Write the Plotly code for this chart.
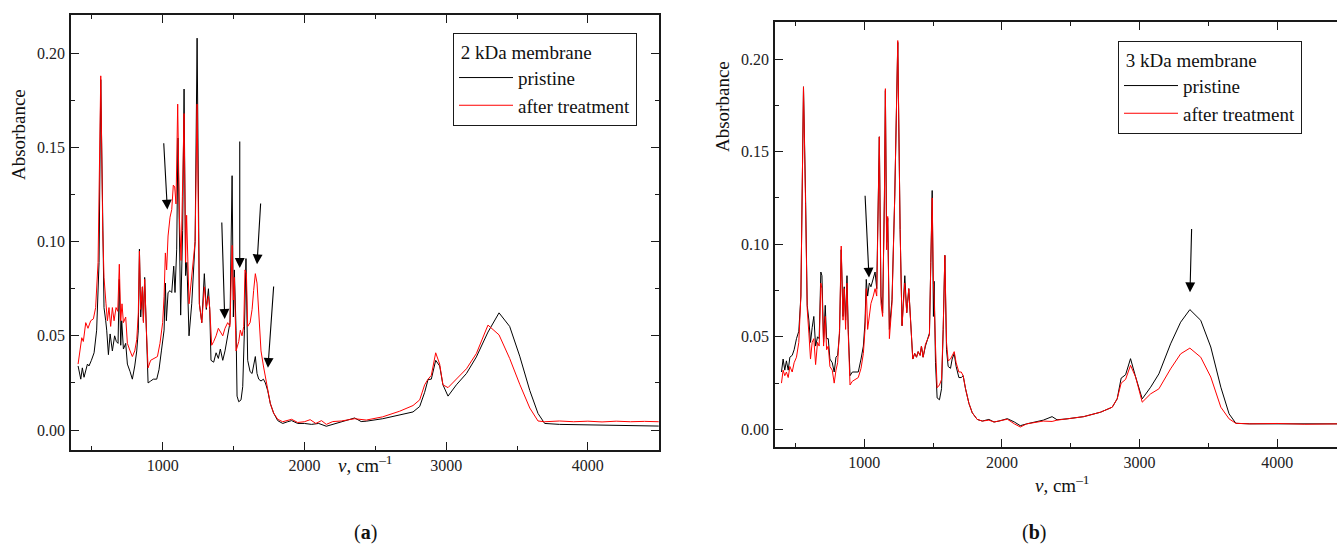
import plotly.graph_objects as go

# ---- data ----
# panel (a) 2 kDa membrane, pristine
a_pr_wn = [402, 421, 432, 444, 468, 479, 496, 515, 533, 550, 562, 573, 585, 597, 604, 616, 628, 644, 660, 672,
           684, 693, 703, 710, 722, 738, 750, 769, 785, 802, 816, 827, 835, 844, 856, 863, 872, 884, 896, 914,
           933, 957, 973, 990, 1009, 1018, 1025, 1037, 1051, 1063, 1077, 1086, 1098, 1107, 1117, 1126, 1140, 1150, 1161, 1170,
           1185, 1204, 1228, 1242, 1258, 1275, 1293, 1307, 1322, 1331, 1340, 1359, 1376, 1392, 1406, 1423, 1439, 1458, 1474, 1489,
           1498, 1505, 1517, 1524, 1536, 1552, 1564, 1576, 1587, 1599, 1616, 1630, 1641, 1653, 1665, 1677, 1693, 1710, 1724, 1740,
           1759, 1782, 1811, 1846, 1881, 1909, 1952, 1999, 2050, 2100, 2154, 2250, 2354, 2400, 2436, 2552, 2672, 2766, 2813, 2848,
           2872, 2895, 2926, 2954, 2977, 3013, 3072, 3143, 3213, 3295, 3373, 3448, 3519, 3590, 3648, 3695, 3800, 4000, 4200, 4500]
a_pr_abs = [0.034, 0.027, 0.033, 0.028, 0.035, 0.034, 0.037, 0.041, 0.053, 0.089, 0.186, 0.124, 0.065, 0.058, 0.053, 0.040, 0.051, 0.042, 0.050, 0.047,
            0.046, 0.080, 0.045, 0.058, 0.043, 0.046, 0.035, 0.031, 0.027, 0.034, 0.042, 0.053, 0.096, 0.060, 0.076, 0.058, 0.081, 0.053, 0.025, 0.026,
            0.027, 0.027, 0.032, 0.042, 0.053, 0.078, 0.058, 0.073, 0.074, 0.073, 0.087, 0.073, 0.096, 0.155, 0.089, 0.061, 0.106, 0.181, 0.082, 0.089,
            0.050, 0.067, 0.100, 0.208, 0.067, 0.057, 0.083, 0.064, 0.075, 0.064, 0.037, 0.036, 0.041, 0.038, 0.043, 0.037, 0.042, 0.050, 0.057, 0.135,
            0.060, 0.085, 0.053, 0.018, 0.015, 0.016, 0.023, 0.053, 0.091, 0.037, 0.031, 0.030, 0.034, 0.039, 0.030, 0.027, 0.026, 0.027, 0.025, 0.021,
            0.014, 0.009, 0.005, 0.0035, 0.0044, 0.005, 0.0035, 0.0035, 0.003, 0.0035, 0.002, 0.004, 0.0064, 0.0045, 0.0047, 0.006, 0.0078, 0.0096, 0.0125, 0.020,
            0.0268, 0.027, 0.037, 0.034, 0.024, 0.018, 0.024, 0.030, 0.0388, 0.052, 0.0622, 0.055, 0.0392, 0.021, 0.0088, 0.0035, 0.003, 0.0028, 0.0025, 0.0021]

# panel (a) 2 kDa membrane, after treatment
a_tr_wn = [402, 416, 428, 439, 456, 472, 491, 510, 526, 543, 562, 576, 585, 599, 609, 620, 632, 644, 656, 670,
           682, 693, 703, 712, 722, 738, 750, 769, 785, 802, 816, 827, 835, 844, 856, 863, 872, 884, 896, 914,
           938, 962, 980, 999, 1009, 1018, 1027, 1037, 1051, 1063, 1074, 1084, 1093, 1105, 1117, 1129, 1138, 1150, 1161, 1168,
           1185, 1204, 1228, 1242, 1258, 1275, 1293, 1307, 1322, 1331, 1345, 1359, 1376, 1392, 1406, 1423, 1439, 1458, 1474, 1489,
           1498, 1505, 1517, 1536, 1547, 1559, 1571, 1580, 1590, 1599, 1616, 1630, 1641, 1653, 1665, 1677, 1693, 1710, 1724, 1740,
           1759, 1782, 1811, 1846, 1881, 1909, 1952, 1999, 2040, 2080, 2120, 2154, 2200, 2260, 2354, 2436, 2552, 2672, 2766, 2813,
           2848, 2872, 2895, 2926, 2954, 2977, 3013, 3072, 3143, 3213, 3295, 3373, 3448, 3519, 3590, 3648, 3695, 3800, 3900, 4000,
           4100, 4200, 4300, 4400, 4500]
a_tr_abs = [0.035, 0.044, 0.049, 0.047, 0.057, 0.054, 0.058, 0.059, 0.065, 0.089, 0.188, 0.106, 0.081, 0.067, 0.058, 0.065, 0.055, 0.065, 0.058, 0.065,
            0.063, 0.088, 0.058, 0.067, 0.057, 0.060, 0.046, 0.042, 0.039, 0.042, 0.048, 0.062, 0.095, 0.064, 0.076, 0.057, 0.080, 0.053, 0.033, 0.037,
            0.038, 0.039, 0.046, 0.057, 0.071, 0.094, 0.085, 0.103, 0.113, 0.117, 0.130, 0.129, 0.120, 0.173, 0.113, 0.090, 0.124, 0.168, 0.089, 0.114,
            0.067, 0.081, 0.100, 0.173, 0.067, 0.057, 0.076, 0.065, 0.071, 0.065, 0.045, 0.047, 0.050, 0.054, 0.052, 0.050, 0.054, 0.057, 0.055, 0.098,
            0.069, 0.081, 0.042, 0.047, 0.053, 0.050, 0.055, 0.085, 0.083, 0.055, 0.057, 0.064, 0.074, 0.083, 0.078, 0.060, 0.042, 0.034, 0.028, 0.022,
            0.014, 0.009, 0.0057, 0.0044, 0.005, 0.0057, 0.004, 0.0044, 0.0055, 0.0035, 0.005, 0.003, 0.0045, 0.0048, 0.006, 0.0053, 0.007, 0.010, 0.013, 0.016,
            0.024, 0.027, 0.029, 0.041, 0.035, 0.024, 0.0225, 0.027, 0.0325, 0.0406, 0.0557, 0.0505, 0.038, 0.0243, 0.0117, 0.0048, 0.0044, 0.0048, 0.0044, 0.0047,
            0.0043, 0.0047, 0.0044, 0.0046, 0.0044]

# panel (b) 3 kDa membrane, shared wavenumber grid
b_wn = [398, 410, 422, 434, 447, 459, 476, 490, 507, 524, 539, 558, 573, 585, 597, 609, 621, 633, 646, 660,
        672, 684, 692, 704, 716, 726, 738, 750, 767, 781, 794, 806, 820, 832, 845, 854, 864, 874, 883, 896,
        913, 932, 956, 976, 993, 1005, 1014, 1024, 1036, 1048, 1065, 1078, 1090, 1099, 1109, 1121, 1133, 1146, 1153, 1162,
        1170, 1182, 1201, 1221, 1243, 1260, 1274, 1294, 1308, 1323, 1337, 1352, 1366, 1379, 1391, 1405, 1415, 1427, 1444, 1461,
        1473, 1483, 1493, 1502, 1507, 1517, 1529, 1546, 1561, 1573, 1585, 1597, 1609, 1626, 1638, 1653, 1667, 1687, 1704, 1718,
        1735, 1760, 1784, 1820, 1857, 1905, 1942, 1978, 2039, 2090, 2133, 2180, 2228, 2300, 2364, 2400, 2473, 2594, 2716, 2801,
        2837, 2866, 2898, 2934, 2971, 3019, 3080, 3140, 3225, 3298, 3365, 3444, 3517, 3590, 3650, 3699, 3800, 4000, 4200, 4440]
b_pr_abs = [0.031, 0.038, 0.032, 0.037, 0.032, 0.039, 0.040, 0.043, 0.049, 0.053, 0.072, 0.185, 0.126, 0.067, 0.059, 0.047, 0.055, 0.061, 0.045, 0.050,
            0.049, 0.085, 0.083, 0.047, 0.067, 0.049, 0.049, 0.038, 0.036, 0.031, 0.039, 0.040, 0.052, 0.097, 0.061, 0.077, 0.059, 0.083, 0.054, 0.029,
            0.031, 0.031, 0.031, 0.038, 0.045, 0.058, 0.081, 0.072, 0.079, 0.077, 0.081, 0.085, 0.076, 0.108, 0.158, 0.072, 0.063, 0.126, 0.183, 0.101,
            0.114, 0.054, 0.070, 0.126, 0.209, 0.108, 0.056, 0.083, 0.063, 0.076, 0.058, 0.038, 0.041, 0.039, 0.042, 0.040, 0.045, 0.039, 0.045, 0.049,
            0.052, 0.090, 0.129, 0.061, 0.080, 0.036, 0.017, 0.016, 0.022, 0.054, 0.094, 0.043, 0.034, 0.033, 0.038, 0.041, 0.034, 0.028, 0.028, 0.029,
            0.022, 0.014, 0.009, 0.0054, 0.0045, 0.0054, 0.004, 0.0045, 0.0058, 0.004, 0.002, 0.003, 0.0038, 0.005, 0.0069, 0.0052, 0.0057, 0.0069, 0.0093, 0.012,
            0.0165, 0.0277, 0.0295, 0.0382, 0.0283, 0.0165, 0.0228, 0.0300, 0.0462, 0.0579, 0.0647, 0.0589, 0.0445, 0.0228, 0.0084, 0.0033, 0.003, 0.003, 0.0028, 0.003]
b_tr_abs = [0.025, 0.032, 0.029, 0.031, 0.028, 0.034, 0.031, 0.036, 0.039, 0.047, 0.072, 0.185, 0.122, 0.065, 0.052, 0.038, 0.047, 0.049, 0.035, 0.047,
            0.045, 0.079, 0.076, 0.045, 0.061, 0.043, 0.045, 0.034, 0.032, 0.025, 0.032, 0.036, 0.054, 0.099, 0.059, 0.076, 0.054, 0.079, 0.052, 0.024,
            0.026, 0.027, 0.028, 0.033, 0.041, 0.054, 0.076, 0.054, 0.063, 0.068, 0.072, 0.076, 0.072, 0.108, 0.158, 0.068, 0.061, 0.126, 0.184, 0.097,
            0.115, 0.049, 0.068, 0.126, 0.210, 0.108, 0.056, 0.079, 0.063, 0.076, 0.058, 0.038, 0.041, 0.039, 0.042, 0.040, 0.045, 0.039, 0.046, 0.049,
            0.051, 0.090, 0.125, 0.079, 0.072, 0.045, 0.0225, 0.024, 0.027, 0.054, 0.094, 0.047, 0.037, 0.038, 0.040, 0.042, 0.036, 0.031, 0.031, 0.029,
            0.022, 0.014, 0.009, 0.0054, 0.0045, 0.005, 0.004, 0.0045, 0.0055, 0.003, 0.0013, 0.003, 0.0035, 0.0045, 0.0043, 0.005, 0.0057, 0.0069, 0.0093, 0.012,
            0.0165, 0.025, 0.027, 0.0346, 0.0283, 0.0147, 0.0192, 0.0219, 0.0327, 0.0408, 0.0439, 0.039, 0.0283, 0.012, 0.0057, 0.0033, 0.003, 0.0032, 0.0028, 0.003]

# arrows: (tail wn, tail A, head wn, head A)
arrows_a = [(1006, 0.153, 1032, 0.117), (1416, 0.111, 1437, 0.059), (1543, 0.154, 1543, 0.086),
            (1691, 0.121, 1665, 0.088), (1783, 0.077, 1742, 0.033)]
arrows_b = [(1005, 0.127, 1034, 0.082), (3378, 0.109, 3366, 0.074)]

assert len(a_pr_wn) == len(a_pr_abs)
assert len(a_tr_wn) == len(a_tr_abs)
assert len(b_wn) == len(b_pr_abs) == len(b_tr_abs)

W, H = 1337, 551
FONT = 'Liberation Serif, Times New Roman, serif'
INK = '#1a1a1a'

fig = go.Figure()
fig.add_trace(go.Scatter(x=a_pr_wn, y=a_pr_abs, mode='lines', name='pristine',
                         line=dict(color='black', width=1), xaxis='x', yaxis='y', legend='legend'))
fig.add_trace(go.Scatter(x=a_tr_wn, y=a_tr_abs, mode='lines', name='after treatment',
                         line=dict(color='#ff0000', width=1), xaxis='x', yaxis='y', legend='legend'))
fig.add_trace(go.Scatter(x=b_wn, y=b_pr_abs, mode='lines', name='pristine',
                         line=dict(color='black', width=1), xaxis='x2', yaxis='y2', legend='legend2'))
fig.add_trace(go.Scatter(x=b_wn, y=b_tr_abs, mode='lines', name='after treatment',
                         line=dict(color='#ff0000', width=1), xaxis='x2', yaxis='y2', legend='legend2'))

common = dict(showgrid=False, zeroline=False, showline=True, linecolor=INK, linewidth=1.5,
              ticks='inside', ticklen=8, tickwidth=1.3, tickcolor=INK,
              tickfont=dict(family=FONT, size=16, color='#222'))
xminor = dict(dtick=500, tick0=0, ticks='inside', ticklen=4, tickwidth=1.2, tickcolor=INK)
yminor = dict(dtick=0.025, tick0=0, ticks='inside', ticklen=4, tickwidth=1.2, tickcolor=INK)
legfont = dict(family=FONT, size=19, color='#111')

fig.update_layout(
    width=W, height=H, margin=dict(l=0, r=0, t=0, b=0),
    font=dict(family=FONT, size=16, color='#111'),
    plot_bgcolor='white', paper_bgcolor='white',
    xaxis=dict(common, domain=[71 / W, 659 / W], range=[352, 4502], tick0=0, dtick=1000,
               minor=xminor, mirror='ticks', anchor='y', ticklabelstandoff=0),
    yaxis=dict(common, domain=[1 - 450 / H, 1 - 15 / H], range=[-0.0106, 0.2203], tick0=0, dtick=0.05,
               tickformat='.2f', minor=yminor, mirror='ticks', anchor='x', ticklabelstandoff=1),
    xaxis2=dict(common, domain=[775 / W, 1.0], range=[351, 4434], tick0=0, dtick=1000,
                minor=xminor, mirror='ticks', anchor='y2', ticklabelstandoff=0),
    yaxis2=dict(common, domain=[1 - 447 / H, 1 - 22 / H], range=[-0.0095, 0.22], tick0=0, dtick=0.05,
                tickformat='.2f', minor=yminor, mirror=False, anchor='x2', ticklabelstandoff=1),
    legend=dict(x=453 / W, y=1 - 33 / H, xanchor='left', yanchor='top', bgcolor='white',
                bordercolor=INK, borderwidth=1, font=legfont, itemwidth=54,
                title=dict(text=' 2 kDa membrane', font=legfont), tracegroupgap=0),
    legend2=dict(x=1118 / W, y=1 - 41 / H, xanchor='left', yanchor='top', bgcolor='white',
                 bordercolor=INK, borderwidth=1, font=legfont, itemwidth=54,
                 title=dict(text=' 3 kDa membrane', font=legfont), tracegroupgap=0),
)

ann = []
for xr, yr, arrows in (('x', 'y', arrows_a), ('x2', 'y2', arrows_b)):
    for tx, ty, hx, hy in arrows:
        ann.append(dict(x=hx, y=hy, ax=tx, ay=ty, xref=xr, yref=yr, axref=xr, ayref=yr,
                        text='', showarrow=True, arrowhead=2, arrowsize=1.8, arrowwidth=1.1,
                        arrowcolor='black'))

txt = dict(family=FONT, size=19, color='#111')


def label(x, y, text, **kw):
    return dict(x=x / W, y=1 - y / H, xref='paper', yref='paper', text=text, showarrow=False,
                xanchor='center', yanchor='middle', font=kw.pop('font', txt), **kw)


ann += [
    label(18, 135, 'Absorbance', textangle=-90),
    label(722, 107, 'Absorbance', textangle=-90),
    label(365, 464, '<i>ν</i>, cm<sup>–1</sup>'),
    label(1062, 484, '<i>ν</i>, cm<sup>–1</sup>'),
    label(365, 532, '(<b>a</b>)', font=dict(family=FONT, size=20, color='#111')),
    label(1034, 532, '(<b>b</b>)', font=dict(family=FONT, size=20, color='#111')),
]
fig.update_layout(annotations=ann)

fig.write_html("out.html", config={'displayModeBar': False},
               post_script="document.body.style.margin='0';")
